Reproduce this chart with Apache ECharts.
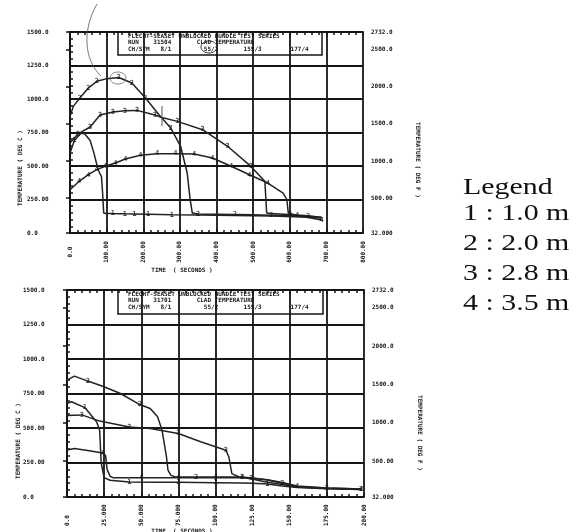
<!DOCTYPE html>
<html>
<head>
<meta charset="utf-8">
<script src="https://cdn.jsdelivr.net/npm/echarts@6/dist/echarts.min.js"></script>
<style>
  html, body { margin: 0; padding: 0; background: #fff; }
  #chart { width: 579px; height: 532px; }
</style>
</head>
<body>
<div id="chart"></div>
<script>
  // tick labels (plotter style)
  const topXLabels = ['0.0', '100.00', '200.00', '300.00', '400.00', '500.00', '600.00', '700.00', '800.00']
  const botXLabels = ['0.0', '25.000', '50.000', '75.000', '100.00', '125.00', '150.00', '175.00', '200.00']
  const tempCLabels = ['0.0', '250.00', '500.00', '750.00', '1000.0', '1250.0', '1500.0']
  const tempFTicks = [32, 500, 1000, 1500, 2000, 2500, 2732]
  const tempFLabels = ['32.000', '500.00', '1000.0', '1500.0', '2000.0', '2500.0', '2732.0']

  // RUN 31504 (top)  time s / clad temp deg C
  const topTime1 = [0, 12, 30, 40, 55, 65, 77, 86, 89, 92, 100, 117, 135, 150, 176, 213, 278, 350, 450, 550, 650, 687]
  const topTemp1 = [597, 690, 745, 740, 690, 600, 470, 420, 300, 150, 146, 145, 144, 143, 142, 140, 136, 134, 130, 126, 118, 112]
  const topMark1 = [1, 11, 13, 14, 15, 16]
  const topTime2 = [0, 9, 27, 50, 73, 101, 133, 169, 206, 243, 275, 302, 320, 328, 334, 350, 400, 450, 500, 550, 600, 650, 687]
  const topTemp2 = [870, 945, 1007, 1082, 1132, 1152, 1160, 1119, 1007, 883, 784, 647, 448, 249, 149, 142, 140, 138, 136, 133, 130, 125, 118]
  const topMark2 = [2, 3, 4, 6, 7, 8, 10, 15, 17, 19, 21]
  const topTime3 = [0, 22, 55, 82, 117, 150, 183, 232, 251, 293, 362, 430, 494, 532, 537, 545, 600, 650, 687]
  const topTemp3 = [672, 740, 791, 880, 903, 912, 915, 880, 862, 833, 771, 647, 497, 386, 150, 145, 138, 128, 115]
  const topMark3 = [1, 2, 3, 4, 5, 6, 7, 9, 10, 11, 12, 16]
  const topTime4 = [0, 25, 50, 73, 96, 124, 151, 192, 238, 288, 339, 389, 440, 490, 540, 582, 592, 596, 620, 650, 687]
  const topTemp4 = [323, 386, 435, 473, 498, 522, 552, 580, 592, 592, 590, 560, 498, 435, 373, 298, 250, 149, 130, 115, 97]
  const topMark4 = [1, 2, 3, 4, 5, 6, 7, 8, 9, 10, 11, 12, 13, 14, 18, 20]

  // RUN 31701 (bottom)
  const botTime1 = [0, 3, 12, 20, 22, 23, 25, 29, 42, 60, 75, 100, 118, 125, 135, 145, 155, 175, 198]
  const botTemp1 = [677, 690, 648, 544, 484, 250, 140, 121, 109, 107, 106, 104, 102, 100, 95, 80, 68, 60, 55]
  const botMark1 = [2, 8, 10, 11, 14]
  const botTime2 = [0, 5, 14, 24, 36, 49, 56, 61, 64, 67, 68, 70, 73, 87, 100, 118, 125, 135, 145, 155, 175, 198]
  const botTemp2 = [847, 876, 840, 803, 750, 670, 641, 581, 484, 290, 194, 157, 145, 145, 145, 145, 138, 123, 100, 75, 65, 58]
  const botMark2 = [2, 5, 13, 15, 18, 21]
  const botTime3 = [0, 10, 22, 42, 56, 75, 90, 107, 109, 111, 116, 124, 133, 145, 155, 175, 198]
  const botTemp3 = [590, 595, 550, 508, 496, 460, 400, 339, 290, 169, 145, 133, 110, 90, 72, 62, 55]
  const botMark3 = [1, 3, 5, 7, 11, 15]
  const botTime4 = [0, 5, 15, 24, 26, 27, 29, 31, 50, 75, 87, 100, 118, 125, 135, 145, 155, 175, 198]
  const botTemp4 = [340, 351, 335, 319, 300, 200, 150, 140, 140, 140, 140, 140, 140, 135, 125, 105, 80, 65, 58]
  const botMark4 = [3, 8, 9, 11, 12, 16, 18]

  const legendLines = ['Legend', '1 : 1.0 m', '2 : 2.0 m', '3 : 2.8 m', '4 : 3.5 m']

  const INK = '#161616'
  const MONO = 'DejaVu Sans Mono'

  function curve (t, T, xi, yi) {
    return {
      type: 'line',
      xAxisIndex: xi,
      yAxisIndex: yi,
      data: t.map((x, i) => [x, T[i]]),
      symbol: 'none',
      lineStyle: { color: '#222', width: 1.5 },
      animation: false,
      z: 3
    }
  }

  function marks (num, t, T, idx, xi, yi) {
    return {
      type: 'scatter',
      xAxisIndex: xi,
      yAxisIndex: yi,
      data: idx.map(i => [t[i], T[i]]),
      symbolSize: 1,
      itemStyle: { color: INK },
      label: {
        show: true,
        position: 'inside',
        formatter: String(num),
        fontSize: 7,
        fontWeight: 'bold',
        fontFamily: MONO,
        color: INK
      },
      animation: false,
      z: 4
    }
  }

  function xAxes (gridIndex, max, interval, labels, margin, align) {
    const base = {
      type: 'value',
      gridIndex: gridIndex,
      min: 0,
      max: max,
      interval: interval,
      axisLine: { show: true, lineStyle: { color: INK, width: 2 } },
      axisTick: { show: true, inside: true, length: 4, lineStyle: { color: INK, width: 1.5 } },
      minorTick: { show: true, splitNumber: 5, length: 3, lineStyle: { color: INK, width: 1.5 } }
    }
    return [
      Object.assign({}, base, {
        position: 'bottom',
        axisLabel: {
          rotate: 90,
          align: align,
          verticalAlign: 'middle',
          margin: margin,
          fontSize: 6,
          fontWeight: 'bold',
          fontFamily: MONO,
          color: INK,
          formatter: v => labels[Math.round(v / interval)]
        },
        splitLine: { show: true, lineStyle: { color: INK, width: 1.8 } }
      }),
      Object.assign({}, base, {
        position: 'top',
        axisLabel: { show: false },
        splitLine: { show: false }
      })
    ]
  }

  function yAxes (gridIndex, labelMargin) {
    return [
      {
        type: 'value',
        gridIndex: gridIndex,
        position: 'left',
        min: 0,
        max: 1500,
        interval: 250,
        axisLine: { show: true, lineStyle: { color: INK, width: 2 } },
        axisTick: { show: true, inside: true, length: 4, lineStyle: { color: INK, width: 1.5 } },
        minorTick: { show: true, splitNumber: 5, length: 3, lineStyle: { color: INK, width: 1.5 } },
        axisLabel: {
          margin: labelMargin,
          align: 'left',
          fontSize: 6,
          fontWeight: 'bold',
          fontFamily: MONO,
          color: INK,
          formatter: v => tempCLabels[Math.round(v / 250)]
        },
        splitLine: { show: true, lineStyle: { color: INK, width: 1.8 } }
      },
      {
        type: 'value',
        gridIndex: gridIndex,
        position: 'right',
        min: 32,
        max: 2732,
        axisLine: { show: true, lineStyle: { color: INK, width: 2 } },
        axisTick: { show: true, inside: true, length: 4, customValues: tempFTicks, lineStyle: { color: INK, width: 1.5 } },
        axisLabel: {
          margin: 8,
          fontSize: 6,
          fontWeight: 'bold',
          fontFamily: MONO,
          color: INK,
          customValues: tempFTicks,
          formatter: v => tempFLabels[tempFTicks.indexOf(v)]
        },
        splitLine: { show: false }
      }
    ]
  }

  function titleBox (x, y, w, h, run) {
    const lines = [
      'FLECHT-SEASET UNBLOCKED BUNDLE TEST SERIES',
      'RUN    ' + run + '       CLAD TEMPERATURE',
      'CH/SYM   8/1         55/2       155/3        177/4'
    ]
    const children = [{
      type: 'rect',
      shape: { x: x, y: y, width: w, height: h },
      style: { fill: '#fff', stroke: INK, lineWidth: 1.5 }
    }]
    lines.forEach((s, i) => {
      children.push({
        type: 'text',
        x: x + 10,
        y: y + 4 + i * 6.5,
        style: { text: s, fontSize: 6, fontWeight: 'bold', fontFamily: MONO, fill: INK, align: 'left', verticalAlign: 'middle' }
      })
    })
    return { type: 'group', children: children, z: 10 }
  }

  function vText (x, y, text, rot) {
    return {
      type: 'text',
      x: x,
      y: y,
      rotation: rot,
      style: { text: text, fontSize: 6, fontWeight: 'bold', fontFamily: MONO, fill: INK, align: 'center', verticalAlign: 'middle' }
    }
  }

  const chart = echarts.init(document.getElementById('chart'), null, { renderer: 'canvas' })

  const graphics = [
    titleBox(118, 32, 204, 23, '31504'),
    titleBox(118, 290, 205, 24, '31701'),
    vText(20, 168, 'TEMPERATURE ( DEG C )', Math.PI / 2),
    vText(418, 160, 'TEMPERATURE ( DEG F )', -Math.PI / 2),
    vText(18, 441, 'TEMPERATURE ( DEG C )', Math.PI / 2),
    vText(420, 433, 'TEMPERATURE ( DEG F )', -Math.PI / 2),
    vText(182, 270, 'TIME  ( SECONDS )', 0),
    vText(182, 531, 'TIME  ( SECONDS )', 0),
    // hand annotations
    { type: 'bezierCurve', shape: { x1: 97, y1: 4, cpx1: 82, cpy1: 30, cpx2: 84, cpy2: 60, x2: 101, y2: 76 }, style: { stroke: '#555', lineWidth: 0.8, fill: null }, z: 11 },
    { type: 'ellipse', shape: { cx: 118, cy: 78, rx: 8, ry: 6 }, style: { stroke: '#666', lineWidth: 0.8, fill: null }, z: 11 },
    { type: 'ellipse', shape: { cx: 209, cy: 47, rx: 8, ry: 6 }, style: { stroke: '#333', lineWidth: 1, fill: null }, z: 11 },
    { type: 'line', shape: { x1: 162, y1: 106, x2: 162, y2: 126 }, style: { stroke: '#555', lineWidth: 1 }, z: 11 }
  ]
  legendLines.forEach((s, i) => {
    graphics.push({
      type: 'text',
      x: 463,
      y: 188 + (i === 0 ? 0 : 26 + (i - 1) * 30),
      scaleX: 1.3,
      style: { text: s, fontSize: 23, fontFamily: 'Liberation Serif', fill: '#111', align: 'left', verticalAlign: 'middle' }
    })
  })

  chart.setOption({
    backgroundColor: '#fff',
    animation: false,
    grid: [
      { left: 70, width: 293, top: 32, height: 201 },
      { left: 67, width: 297, top: 290, height: 207 }
    ],
    xAxis: xAxes(0, 800, 100, topXLabels, 19, 'center').concat(xAxes(1, 200, 25, botXLabels, 29, 'left')),
    yAxis: yAxes(0, 43).concat(yAxes(1, 44)),
    series: [
      curve(topTime1, topTemp1, 0, 0), marks(1, topTime1, topTemp1, topMark1, 0, 0),
      curve(topTime2, topTemp2, 0, 0), marks(2, topTime2, topTemp2, topMark2, 0, 0),
      curve(topTime3, topTemp3, 0, 0), marks(3, topTime3, topTemp3, topMark3, 0, 0),
      curve(topTime4, topTemp4, 0, 0), marks(4, topTime4, topTemp4, topMark4, 0, 0),
      curve(botTime1, botTemp1, 2, 2), marks(1, botTime1, botTemp1, botMark1, 2, 2),
      curve(botTime2, botTemp2, 2, 2), marks(2, botTime2, botTemp2, botMark2, 2, 2),
      curve(botTime3, botTemp3, 2, 2), marks(3, botTime3, botTemp3, botMark3, 2, 2),
      curve(botTime4, botTemp4, 2, 2), marks(4, botTime4, botTemp4, botMark4, 2, 2)
    ],
    graphic: graphics
  })
</script>
</body>
</html>
